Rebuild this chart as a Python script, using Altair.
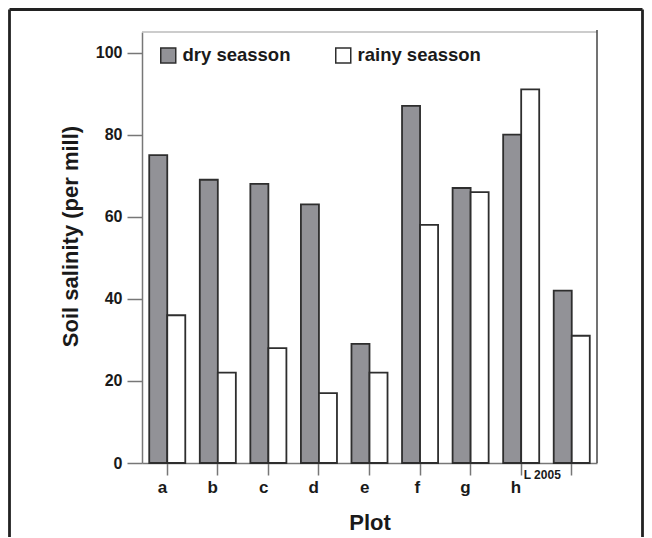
import altair as alt
import pandas as pd

plots = ["a", "b", "c", "d", "e", "f", "g", "h", "L 2005"]
dry = [75, 69, 68, 63, 29, 87, 67, 80, 42]
rainy = [36, 22, 28, 17, 22, 58, 66, 91, 31]
seasons = ["dry seasson", "rainy seasson"]
y_ticks = [0, 20, 40, 60, 80, 100]

df = pd.DataFrame({
    "Plot": plots * 2,
    "Season": [seasons[0]] * len(plots) + [seasons[1]] * len(plots),
    "Salinity": dry + rainy,
})
note = pd.DataFrame({"Plot": [plots[-1]], "Salinity": [0], "label": [plots[-1]]})

W, H = 455, 431
FONT = "Liberation Sans"
INK = "#1a1a1a"

xscale = alt.Scale(paddingInner=0.287, paddingOuter=0.143)

bars = alt.Chart(df).mark_bar(stroke="#2e2e2e", strokeWidth=1.8).encode(
    x=alt.X("Plot:N", sort=plots, scale=xscale,
            axis=alt.Axis(title="Plot", labelExpr="datum.value == 'L 2005' ? '' : datum.value",
                          labelAngle=0, labelAlign="right", labelFont=FONT, labelFontSize=17,
                          labelFontWeight="bold", labelColor=INK, labelPadding=4,
                          tickSize=12, tickColor="#777", tickWidth=1.5,
                          domainColor="#777", domainWidth=1.5,
                          titleFont=FONT, titleFontSize=22, titleFontWeight="bold", titleColor=INK,
                          titleBaseline="alphabetic", titleY=66, titleX=W / 2)),
    xOffset=alt.XOffset("Season:N", sort=seasons, scale=alt.Scale(paddingInner=0, paddingOuter=0)),
    y=alt.Y("Salinity:Q", scale=alt.Scale(domain=[0, 105], nice=False),
            axis=alt.Axis(values=y_ticks, grid=False, title="Soil salinity (per mill)",
                          labelFont=FONT, labelFontSize=16, labelFontWeight="bold", labelColor=INK,
                          labelPadding=5, tickSize=15, tickColor="#777", tickWidth=1.5,
                          domainColor="#777", domainWidth=1.5,
                          titleFont=FONT, titleFontSize=22, titleFontWeight="bold", titleColor=INK,
                          titleX=-60, titleY=204, titleAlign="center", titleBaseline="bottom")),
    fill=alt.Fill("Season:N", sort=seasons,
                  scale=alt.Scale(domain=seasons, range=["#929297", "#ffffff"]),
                  legend=alt.Legend(title=None, orient="none", legendX=17, legendY=14,
                                    direction="horizontal", symbolType="square", symbolSize=225,
                                    symbolStrokeColor="#2e2e2e", symbolStrokeWidth=1.5,
                                    labelFont=FONT, labelFontSize=18.5, labelFontWeight="bold",
                                    labelColor=INK, labelOffset=5, columnPadding=41, padding=0)),
)

annot = alt.Chart(note).mark_text(dx=-29.5, dy=12.3, font=FONT, fontSize=12, fontWeight="bold",
                                  align="center", baseline="middle", color=INK).encode(
    x=alt.X("Plot:N", sort=plots), y=alt.Y("Salinity:Q"), text="label:N")

one = alt.Data(values=[{"k": 0}])
frame_left = alt.Chart(one).mark_rule(color="#222", strokeWidth=2.8).encode(
    x=alt.value(-132.5), y=alt.value(-22.5), y2=alt.value(H + 90))
frame_top = alt.Chart(one).mark_rule(color="#222", strokeWidth=2.8).encode(
    x=alt.value(-132.5), x2=alt.value(500.5), y=alt.value(-22.5))
frame_right = alt.Chart(one).mark_rule(color="#222", strokeWidth=2.8).encode(
    x=alt.value(500.5), y=alt.value(-22.5), y2=alt.value(H + 90))
box_top = alt.Chart(one).mark_rule(color="#bbb", strokeWidth=1.5).encode(
    x=alt.value(0), x2=alt.value(W), y=alt.value(0))
box_right = alt.Chart(one).mark_rule(color="#444", strokeWidth=1.5).encode(
    x=alt.value(W), y=alt.value(-2), y2=alt.value(H))

chart = alt.layer(box_top, box_right, bars, annot, frame_left, frame_top, frame_right).properties(
    width=W, height=H,
    padding={"left": 134, "top": 24, "right": 47, "bottom": 74},
    autosize="none",
).configure_view(stroke=None)

chart.save("out.html", embed_options={"renderer": "svg", "actions": False})
